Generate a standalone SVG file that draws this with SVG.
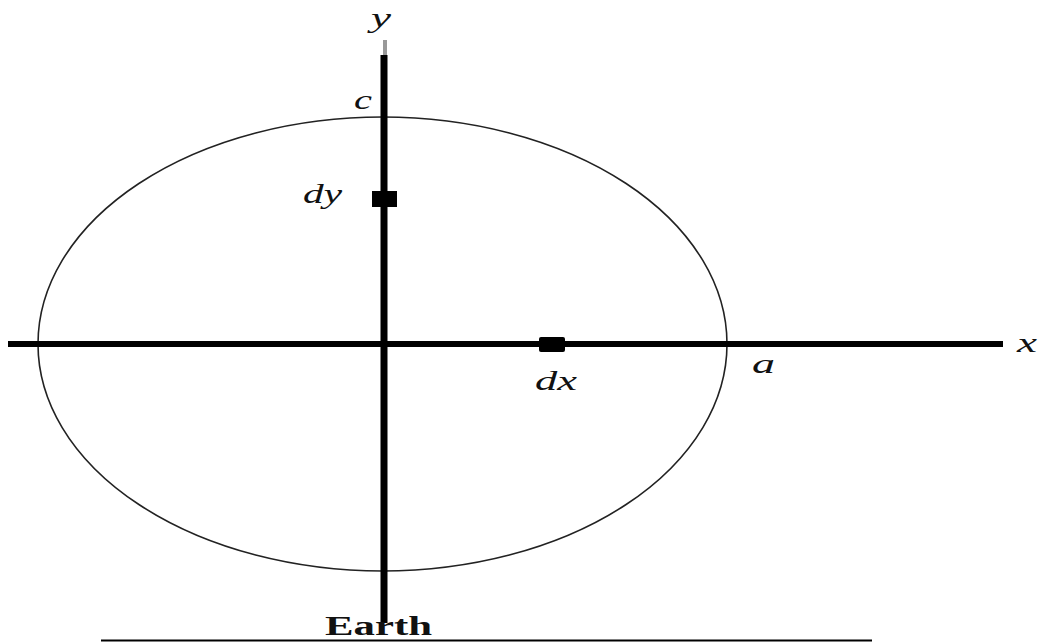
<svg xmlns="http://www.w3.org/2000/svg" width="1038" height="642" viewBox="0 0 1038 642">
<style>
.lbl{font-family:"Liberation Serif",serif;font-style:italic;font-size:27px;fill:#111}
.earth{font-family:"Liberation Serif",serif;font-weight:bold;font-size:27px;fill:#111}
</style>
<rect width="1038" height="642" fill="#fff"/>
<g id="ellipse"><ellipse cx="382.5" cy="344" rx="344.5" ry="227" fill="none" stroke="#222" stroke-width="1.6"/></g>
<g id="axes">
<line x1="8" y1="344" x2="1003" y2="344" stroke="#000" stroke-width="6"/>
<line x1="385" y1="40" x2="385" y2="56" stroke="#999" stroke-width="4"/>
<line x1="384" y1="55" x2="384" y2="623" stroke="#000" stroke-width="7"/>
<line x1="101" y1="640.5" x2="872" y2="640.5" stroke="#000" stroke-width="2"/>
</g>
<g id="dy"><rect x="372" y="191" width="25" height="16" fill="#000"/><text class="lbl" x="303" y="203" textLength="39" lengthAdjust="spacingAndGlyphs">dy</text></g>
<g id="dx"><rect x="539" y="337" width="26" height="15" rx="2" fill="#000"/><text class="lbl" x="535" y="390" textLength="42" lengthAdjust="spacingAndGlyphs">dx</text></g>
<g id="labels">
<text class="lbl" x="371" y="27" textLength="20" lengthAdjust="spacingAndGlyphs">y</text>
<text class="lbl" x="354" y="109" textLength="18" lengthAdjust="spacingAndGlyphs">c</text>
<text class="lbl" x="752" y="373" textLength="23" lengthAdjust="spacingAndGlyphs">a</text>
<text class="lbl" x="1017" y="352" textLength="20" lengthAdjust="spacingAndGlyphs">x</text>
<text class="earth" x="325" y="635" textLength="107" lengthAdjust="spacingAndGlyphs">Earth</text>
</g>
</svg>
